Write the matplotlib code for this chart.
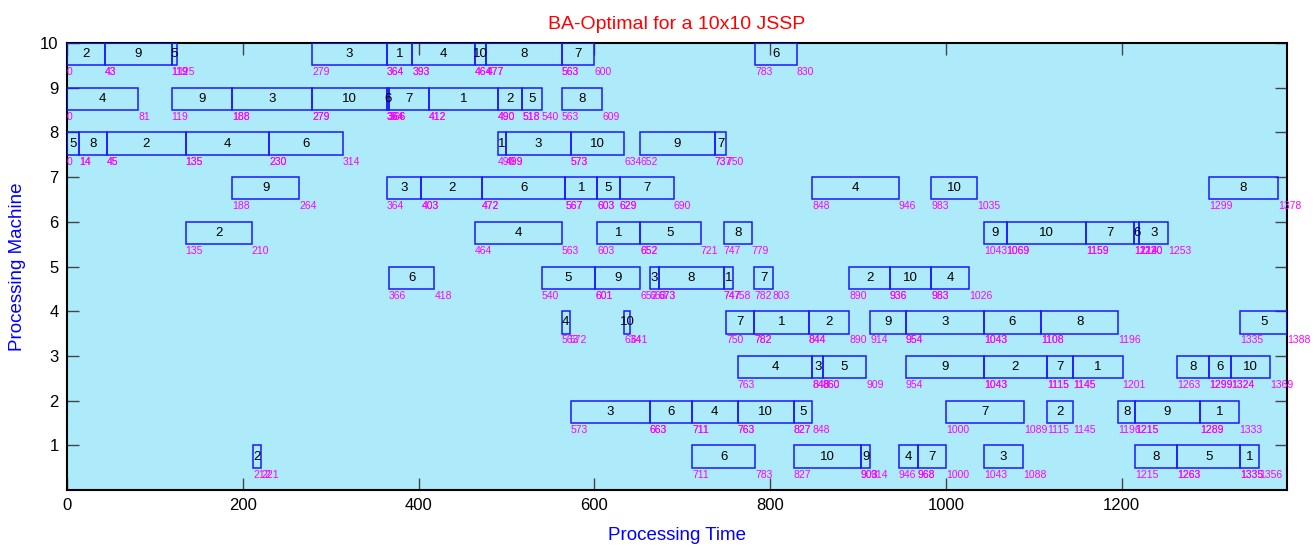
"""Gantt chart of the BA-optimal schedule for a 10x10 JSSP."""
import matplotlib
matplotlib.use("Agg")
import matplotlib.pyplot as plt

plt.rcParams["font.family"] = ["Liberation Sans", "DejaVu Sans"]

# ── Schedule: one row per operation ──────────────────────────────────────────
machine = ([10] * 10 + [9] * 10 + [8] * 10 + [7] * 10 + [6] * 10 +
           [5] * 10 + [4] * 10 + [3] * 10 + [2] * 10 + [1] * 10)
job = [2, 9, 5, 3, 1, 4, 10, 8, 7, 6,
       4, 9, 3, 10, 6, 7, 1, 2, 5, 8,
       5, 8, 2, 4, 6, 1, 3, 10, 9, 7,
       9, 3, 2, 6, 1, 5, 7, 4, 10, 8,
       2, 4, 1, 5, 8, 9, 10, 7, 6, 3,
       6, 5, 9, 3, 8, 1, 7, 2, 10, 4,
       4, 10, 7, 1, 2, 9, 3, 6, 8, 5,
       4, 3, 5, 9, 2, 7, 1, 8, 6, 10,
       3, 6, 4, 10, 5, 7, 2, 8, 9, 1,
       2, 6, 10, 9, 4, 7, 3, 8, 5, 1]
start = [0, 43, 119, 279, 364, 393, 464, 477, 563, 783,
         0, 119, 188, 279, 364, 366, 412, 490, 518, 563,
         0, 14, 45, 135, 230, 490, 499, 573, 652, 737,
         188, 364, 403, 472, 567, 603, 629, 848, 983, 1299,
         135, 464, 603, 652, 747, 1043, 1069, 1159, 1214, 1220,
         366, 540, 601, 663, 673, 747, 782, 890, 936, 983,
         563, 634, 750, 782, 844, 914, 954, 1043, 1108, 1335,
         763, 848, 860, 954, 1043, 1115, 1145, 1263, 1299, 1324,
         573, 663, 711, 763, 827, 1000, 1115, 1196, 1215, 1289,
         212, 711, 827, 903, 946, 968, 1043, 1215, 1263, 1335]
end = [43, 119, 125, 364, 393, 464, 477, 563, 600, 830,
       81, 188, 279, 364, 366, 412, 490, 518, 540, 609,
       14, 45, 135, 230, 314, 499, 573, 634, 737, 750,
       264, 403, 472, 567, 603, 629, 690, 946, 1035, 1378,
       210, 563, 652, 721, 779, 1069, 1159, 1214, 1220, 1253,
       418, 601, 652, 673, 747, 758, 803, 936, 983, 1026,
       572, 641, 782, 844, 890, 954, 1043, 1108, 1196, 1388,
       848, 860, 909, 1043, 1115, 1145, 1201, 1299, 1324, 1369,
       663, 711, 763, 827, 848, 1089, 1145, 1215, 1289, 1333,
       221, 783, 903, 914, 968, 1000, 1088, 1263, 1335, 1356]

makespan = max(end)
yticks = list(range(1, 11))
xticks = [0, 200, 400, 600, 800, 1000, 1200]

BG = "#ADEBFB"
EDGE = "#1A1AFF"
MAG = "#FF00FF"
BH = 0.5   # bar height

fig = plt.figure(figsize=(13.14, 5.47), dpi=100)
ax = fig.add_axes([0.051, 0.104, 0.9285, 0.8174])
ax.set_facecolor(BG)

widths = [e - s for s, e in zip(start, end)]
ax.barh([m - BH / 2 for m in machine], widths, left=start, height=BH,
        facecolor="none", edgecolor=EDGE, linewidth=1.1, zorder=3)

for m, j, s, e in zip(machine, job, start, end):
    ax.text((s + e) / 2, m - BH / 2, str(j), ha="center", va="center",
            fontsize=9.5, color="black", zorder=4)
    for t in (s, e):
        ax.text(t, m - BH - 0.04, str(t), ha="left", va="top",
                fontsize=7.5, color=MAG, zorder=4, clip_on=False)

ax.set_xlim(0, makespan)
ax.set_ylim(0, 10)
ax.set_xticks(xticks)
ax.set_yticks(yticks)
ax.tick_params(direction="in", top=True, right=True, length=8.5,
               width=1.0, color="#444444", labelsize=12, pad=6)
for sp in ax.spines.values():
    sp.set_linewidth(1.5)

ax.set_title("BA-Optimal for a 10x10 JSSP", color="red", fontsize=14, pad=10)
ax.set_xlabel("Processing Time", color="blue", fontsize=13.5, labelpad=10)
ax.set_ylabel("Processing Machine", color="blue", fontsize=13.5, labelpad=10)

fig.savefig("out.png", dpi=100, facecolor="white")
